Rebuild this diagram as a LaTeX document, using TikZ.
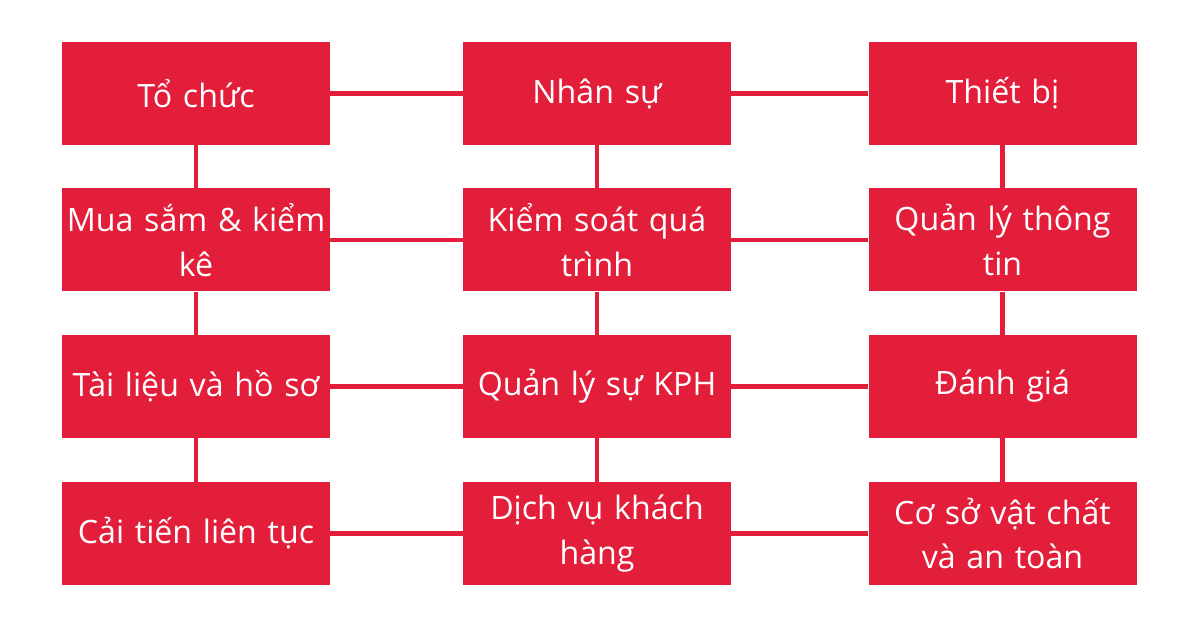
\documentclass[tikz,border=0pt]{standalone}
\usepackage{fontspec}
\setmainfont{Open Sans}
\usetikzlibrary{positioning}
\definecolor{hongdo}{HTML}{E21E3A}
\tikzset{khoi/.style={rectangle, fill=hongdo, text=white, minimum width=5.36cm, minimum height=2.06cm, text width=5.36cm, align=center, inner sep=0pt, font=\fontsize{18.3}{25.5}\selectfont}}
\tikzset{noi/.style={draw=hongdo, line width=2.3pt}}

\begin{document}
\begin{tikzpicture}
\useasboundingbox (0,0) rectangle (24,12.56);
% hang 1
\node[khoi] (tc) at (3.92,10.69) {Tổ chức};
\node[khoi] (ns) at (11.94,10.69) {Nhân sự};
\node[khoi] (tb) at (20.05,10.69) {Thiết bị};
% hang 2
\node[khoi] (ms) at (3.92,7.76) {Mua sắm \& kiểm\\kê};
\node[khoi] (ks) at (11.94,7.76) {Kiểm soát quá\\trình};
\node[khoi] (ql) at (20.05,7.76) {Quản lý thông\\tin};
% hang 3
\node[khoi] (tl) at (3.92,4.83) {Tài liệu và hồ sơ};
\node[khoi] (kph) at (11.94,4.83) {Quản lý sự KPH};
\node[khoi] (dg) at (20.05,4.83) {Đánh giá};
% hang 4
\node[khoi] (ct) at (3.92,1.89) {Cải tiến liên tục};
\node[khoi] (dv) at (11.94,1.89) {Dịch vụ khách\\hàng};
\node[khoi] (cs) at (20.05,1.89) {Cơ sở vật chất\\và an toàn};
\foreach \a/\b in {tc/ns,ns/tb,ms/ks,ks/ql,tl/kph,kph/dg,ct/dv,dv/cs} {
\draw[noi] (\a) -- (\b);
}
\foreach \a/\b in {tc/ms,ms/tl,tl/ct,ns/ks,ks/kph,kph/dv,tb/ql,ql/dg,dg/cs} {
\draw[noi] (\a) -- (\b);
}
\end{tikzpicture}
\end{document}
